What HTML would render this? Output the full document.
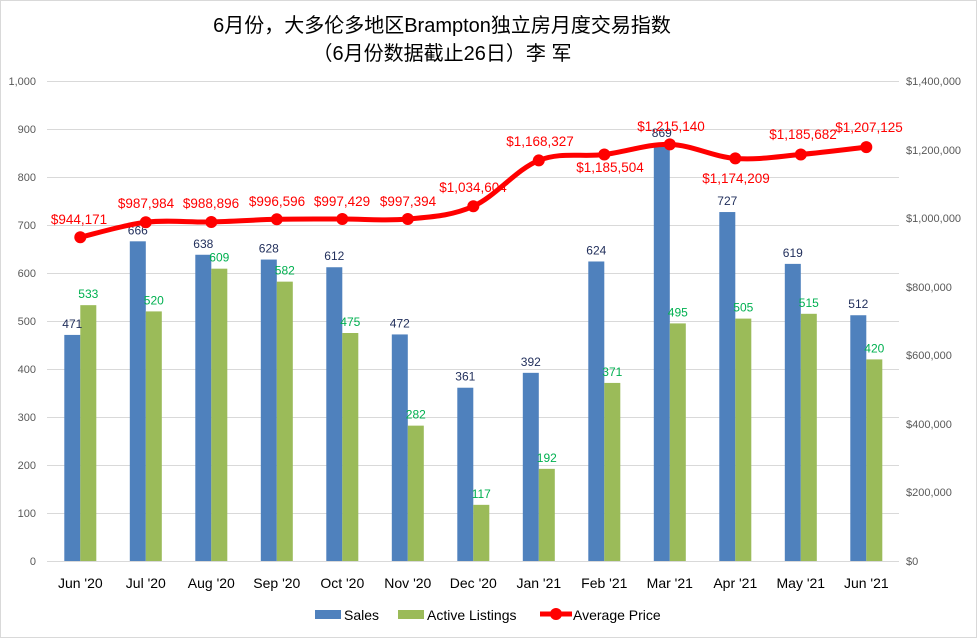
<!DOCTYPE html>
<html><head><meta charset="utf-8"><style>
html,body{margin:0;padding:0;background:#fff;}
svg{display:block;font-family:"Liberation Sans","Noto Sans CJK SC",sans-serif;}
</style></head><body>
<svg width="977" height="638" viewBox="0 0 977 638" xmlns="http://www.w3.org/2000/svg">
<rect x="0.5" y="0.5" width="976" height="637" fill="#fff" stroke="#d9d9d9"/>
<text x="442" y="32" text-anchor="middle" font-size="20" fill="#000">6月份，大多伦多地区Brampton独立房月度交易指数</text>
<text x="442" y="60" text-anchor="middle" font-size="20" fill="#000">（6月份数据截止26日）李 军</text>
<g stroke="#d9d9d9" stroke-width="1">
<line x1="47" x2="899" y1="81.5" y2="81.5"/><line x1="47" x2="899" y1="129.5" y2="129.5"/>
<line x1="47" x2="899" y1="177.5" y2="177.5"/><line x1="47" x2="899" y1="225.5" y2="225.5"/>
<line x1="47" x2="899" y1="273.5" y2="273.5"/><line x1="47" x2="899" y1="321.5" y2="321.5"/>
<line x1="47" x2="899" y1="369.5" y2="369.5"/><line x1="47" x2="899" y1="417.5" y2="417.5"/>
<line x1="47" x2="899" y1="465.5" y2="465.5"/><line x1="47" x2="899" y1="513.5" y2="513.5"/>
<line x1="47" x2="899" y1="561.5" y2="561.5"/>
</g>
<g font-size="11" fill="#595959" text-anchor="end">
<text x="36" y="85">1,000</text><text x="36" y="133">900</text><text x="36" y="181">800</text>
<text x="36" y="229">700</text><text x="36" y="277">600</text><text x="36" y="325">500</text>
<text x="36" y="373">400</text><text x="36" y="421">300</text><text x="36" y="469">200</text>
<text x="36" y="517">100</text><text x="36" y="565">0</text>
</g>
<g font-size="11" fill="#595959">
<text x="906" y="85">$1,400,000</text><text x="906" y="154">$1,200,000</text><text x="906" y="222">$1,000,000</text>
<text x="906" y="291">$800,000</text><text x="906" y="359">$600,000</text><text x="906" y="428">$400,000</text>
<text x="906" y="496">$200,000</text><text x="906" y="565">$0</text>
</g>
<g id="bars"></g>
<g id="labels"></g>
<g font-size="14" fill="#000" text-anchor="middle" id="xl"></g>
<path id="line" fill="none" stroke="#ff0000" stroke-width="5" stroke-linejoin="round"/>
<g id="dots"></g>
<g id="plabels" font-size="13.5" fill="#ff0000" text-anchor="middle"></g>
<rect x="315" y="610" width="26" height="9" fill="#4f81bd"/>
<text x="344" y="620" font-size="14">Sales</text>
<rect x="398" y="610" width="26" height="9" fill="#9bbb59"/>
<text x="427" y="620" font-size="14">Active Listings</text>
<line x1="540" x2="572" y1="614" y2="614" stroke="#f00" stroke-width="5"/>
<circle cx="556" cy="614" r="6" fill="#f00"/>
<text x="573" y="620" font-size="14">Average Price</text>
<script>
var S=[471,666,638,628,612,472,361,392,624,869,727,619,512];
var L=[533,520,609,582,475,282,117,192,371,495,505,515,420];
var P=[944171,987984,988896,996596,997429,997394,1034604,1168327,1185504,1215140,1174209,1185682,1207125];
var N=["Jun '20","Jul '20","Aug '20","Sep '20","Oct '20","Nov '20","Dec '20","Jan '21","Feb '21","Mar '21","Apr '21","May '21","Jun '21"];
var PL=[[79,224],[146,208],[211,208],[277,206],[342,206],[408,206],[473,192],[540,146],[610,172],[671,131],[736,183],[803,139],[869,132]];
var ns="http://www.w3.org/2000/svg";
function el(t,a,p,txt){var e=document.createElementNS(ns,t);for(var k in a)e.setAttribute(k,a[k]);if(txt!=null)e.textContent=txt;document.getElementById(p).appendChild(e);return e;}
var fmt=function(v){return "$"+v.toLocaleString("en-US");};
var pts=[];
for(var i=0;i<13;i++){
 var c=80.3+65.5*i;
 var ys=561-S[i]*0.48, yl=561-L[i]*0.48;
 el("rect",{x:c-16,y:ys,width:16,height:561-ys,fill:"#4f81bd"},"bars");
 el("rect",{x:c,y:yl,width:16,height:561-yl,fill:"#9bbb59"},"bars");
 el("text",{x:c-8,y:ys-7,"font-size":"12",fill:"#1f2d5a","text-anchor":"middle"},"labels",S[i]);
 el("text",{x:c+8,y:yl-7,"font-size":"12",fill:"#00b050","text-anchor":"middle"},"labels",L[i]);
 el("text",{x:c,y:588},"xl",N[i]);
 var yp=561-P[i]*480/1400000;pts.push([c,yp]);
 el("text",{x:PL[i][0],y:PL[i][1]},"plabels",fmt(P[i]));
}
var d="M"+pts[0][0]+","+pts[0][1];
for(var i=0;i<12;i++){
 var p0=pts[Math.max(i-1,0)],p1=pts[i],p2=pts[i+1],p3=pts[Math.min(i+2,12)];
 var t=0.17;
 d+=" C"+(p1[0]+(p2[0]-p0[0])*t)+","+(p1[1]+(p2[1]-p0[1])*t)+" "+(p2[0]-(p3[0]-p1[0])*t)+","+(p2[1]-(p3[1]-p1[1])*t)+" "+p2[0]+","+p2[1];
}
document.getElementById("line").setAttribute("d",d);
for(var i=0;i<13;i++)el("circle",{cx:pts[i][0],cy:pts[i][1],r:6,fill:"#f00"},"dots");
</script>
</svg>
</body></html>
